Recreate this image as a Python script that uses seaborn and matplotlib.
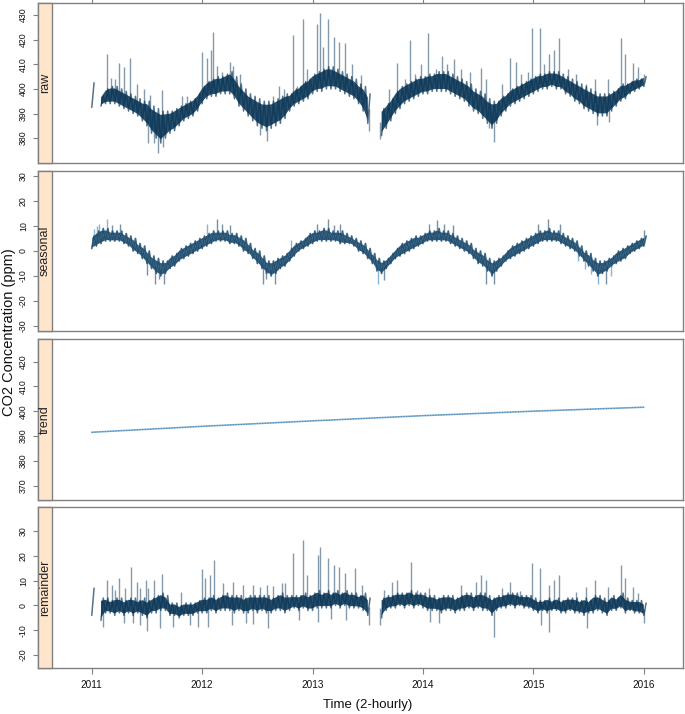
import numpy as np
import pandas as pd
import matplotlib
matplotlib.use("Agg")
import matplotlib.pyplot as plt
import seaborn as sns
from matplotlib.patches import Rectangle

sns.set_theme(style="white")
plt.rcParams['font.family'] = ['Liberation Sans', 'DejaVu Sans']

# ---------------- data ----------------
# knots every 1/24 year from 2011.0 to 2016.0; lo/hi = local min / max of the dense band
START = 2011.0
STEP = 1 / 24

raw_lo = [392.5, None, 393, 394, 394, 394, 393, 392, 391, 390, 389, 387,
          385, 382, 380, 378, 380, 382, 383, 385, 387, 388, 389, 391,
          394, 396, 397, 397, 398, 398, 398, 396, 393, 391, 389, 387,
          385, 384, 383, 384, 385, 386, 388, 391, 393, 394, 395, 396,
          398, 399, 399, 400, 400, 400, 399, 398, 397, 396, 394, 391,
          386, None, None, 381, 384, 387, 390, 392, 394, 395, 396, 397,
          398, 398, 399, 399, 399, 399, 398, 397, 396, 395, 393, 391,
          390, 388, 386, 384, 386, 389, 391, 393, 394, 395, 396, 397,
          398, 399, 400, 400, 401, 400, 400, 398, 397, 395, 394, 392,
          391, 390, 389, 389, 389, 391, 393, 395, 396, 398, 399, 400,
          401]
raw_hi = [402.5, None, 397, 400, 401, 401, 400, 399, 398, 397, 396, 395,
          395, 393, 392, 391, 391, 391, 392, 393, 394, 395, 396, 398,
          401, 403, 404, 405, 405, 406, 407, 405, 402, 400, 398, 397,
          396, 395, 395, 395, 396, 397, 398, 398, 400, 401, 403, 404,
          406, 407, 408, 409, 409, 408, 407, 406, 405, 404, 402, 401,
          398, None, None, 392, 394, 396, 399, 401, 402, 403, 404, 405,
          405, 406, 406, 407, 407, 407, 406, 405, 404, 403, 402, 400,
          399, 398, 396, 395, 395, 397, 398, 400, 401, 402, 403, 404,
          405, 406, 406, 407, 407, 407, 406, 405, 404, 403, 402, 401,
          400, 399, 398, 398, 398, 399, 400, 402, 402, 403, 404, 404,
          405]
raw_spike_t = [2011.136, 2011.172, 2011.211, 2011.247, 2011.293, 2011.347, 2011.407, 2011.474,
               2011.528, 2011.633, 2011.603, 2011.649, 2011.513, 2011.560, 2011.815, 2011.860,
               2011.995, 2012.040, 2012.080, 2012.100, 2012.130, 2012.176, 2012.250, 2012.280,
               2012.340, 2012.520, 2012.584, 2012.644, 2012.700, 2012.740, 2012.819, 2012.855,
               2012.910, 2012.946, 2013.036, 2013.066, 2013.096, 2013.136, 2013.190, 2013.240,
               2013.290, 2013.360, 2013.440, 2013.510, 2013.615, 2013.690, 2013.767, 2013.840,
               2013.880, 2013.930, 2013.980, 2014.045, 2014.115, 2014.170, 2014.220, 2014.280,
               2014.340, 2014.430, 2014.524, 2014.570, 2014.645, 2014.600, 2014.720, 2014.790,
               2014.840, 2014.890, 2014.950, 2014.988, 2015.060, 2015.100, 2015.140, 2015.190,
               2015.230, 2015.310, 2015.390, 2015.480, 2015.555, 2015.576, 2015.685, 2015.676,
               2015.790, 2015.830, 2015.900, 2015.950, 2016.000]
raw_spike_v = [414, 404.5, 404, 410.5, 409, 412.5, 402, 400,
               397.5, 399.5, 374, 376.5, 378, 378, 397, 397,
               415, 412.5, 416, 423, 409.5, 407, 411, 409.5,
               406, 381.4, 379, 397, 401, 400, 422, 401,
               428.5, 408, 426.5, 431, 417, 428.5, 421, 419,
               418.5, 410, 405.7, 382.7, 379.5, 400, 410.4, 404,
               420, 406, 410, 422.6, 408, 413.4, 410, 412.2,
               408, 407, 408.4, 404, 378.6, 384, 402, 412.4,
               411, 406, 407, 424.6, 424.6, 410, 414, 416,
               420.5, 408, 406, 402, 404, 385.4, 386.5, 404,
               420.5, 414, 410.5, 409, 406]

seas_lo = [1, 2, 3, 4, 4, 4, 4, 3, 2, 0, -1, -3,
           -5, -7, -9, -10, -9, -7, -6, -4, -3, -2, -1, 0,
           1, 2, 3, 4, 4, 4, 3, 3, 2, 0, -1, -3,
           -5, -7, -9, -10, -9, -7, -6, -4, -2, 0, 1, 2,
           3, 4, 4, 4, 4, 4, 3, 3, 3, 2, 0, -1,
           -3, -5, -8, -9, -7, -5, -3, -2, -1, 0, 1, 2,
           3, 4, 4, 4, 4, 4, 3, 2, 1, 0, -1, -3,
           -5, -6, -8, -10, -8, -6, -4, -3, -2, -1, 0, 1,
           2, 3, 4, 4, 4, 4, 3, 2, 1, 0, -2, -4,
           -6, -8, -10, -9, -8, -6, -5, -4, -3, -1, 0, 1,
           2]
seas_hi = [6, 8, 9, 9, 8, 8, 8, 7, 6, 5, 3, 2,
           0, -2, -3, -4, -4, -2, -1, 1, 2, 3, 4, 5,
           6, 7, 8, 8, 8, 8, 7, 7, 6, 5, 3, 1,
           0, -2, -4, -4, -3, -2, -1, 1, 3, 4, 5, 7,
           8, 8, 9, 9, 8, 8, 8, 7, 6, 5, 4, 3,
           1, -1, -3, -4, -3, -1, 1, 3, 4, 5, 6, 6,
           7, 8, 8, 9, 8, 8, 7, 6, 5, 4, 3, 1,
           0, -1, -3, -4, -3, -2, 0, 2, 3, 4, 5, 6,
           7, 8, 8, 9, 8, 8, 7, 6, 5, 4, 2, 0,
           -1, -3, -4, -4, -3, -2, 0, 1, 2, 3, 4, 5,
           6]
seas_spike_t = [2011.180, 2011.256, 2011.500, 2011.573, 2011.650, 2011.610, 2012.130, 2012.176,
                2012.250, 2012.550, 2012.660, 2012.580, 2013.040, 2013.140, 2013.190, 2013.250,
                2013.645, 2014.055, 2014.130, 2014.190, 2014.270, 2014.570, 2014.645, 2015.040,
                2015.130, 2015.240, 2015.660, 2016.000]
seas_spike_v = [10.4, 11, -9.6, -13, -13, -11, 13, 11,
                10.4, -13, -13, -11, 11, 12.7, 10.4, 11,
                -11.6, 11, 12.4, 11, 10.4, -13, -13, 11,
                12.7, 11, -13, 8.5]
seas_light_t = [2011.020, 2011.050, 2011.070, 2011.136, 2012.040, 2012.800, 2013.590,
                2015.400, 2015.470, 2015.520, 2015.585, 2015.700]
seas_light_v = [9, 10, 11, 12.7, 11, 4.4, -13,
                -4, -7, -9, -13, -10]

trend_t = [2011, 2012, 2013, 2014, 2015, 2016]
trend_v = [391.5, 393.9, 396.1, 398.2, 400.0, 401.6]

rem_lo = [-4, None, -6, -3, -3, -4, -3, -4, -3, -4, -3, -4,
          -5, -3, -3, -2, -2, -4, -4, -5, -4, -4, -4, -3,
          -3, -3, -2, -3, -2, -2, -2, -3, -2, -3, -3, -2,
          -3, -2, -3, -3, -2, -2, -3, -2, -1, -2, -1, -2,
          -2, -1, -1, -1, -1, 0, -1, 0, -1, -1, -1, -2,
          -4, None, None, -5, -2, -1, -1, 0, -1, 0, -1, 0,
          -1, -2, -2, -2, -3, -2, -2, -3, -2, -2, -1, -2,
          -1, -2, -2, -4, -2, -1, -1, 0, -1, 0, -1, -1,
          -2, -3, -2, -3, -2, -2, -3, -3, -2, -3, -3, -4,
          -3, -3, -2, -3, -4, -2, -2, -1, -3, -2, -3, -3,
          -4]
rem_hi = [7, None, 3, 3, 2, 3, 3, 2, 3, 3, 2, 3,
          2, 3, 4, 5, 4, 1, 1, 0, 1, 1, 1, 2,
          3, 3, 4, 3, 4, 5, 4, 4, 4, 3, 4, 4,
          4, 4, 4, 3, 4, 5, 4, 4, 4, 4, 5, 4,
          5, 6, 5, 6, 5, 6, 5, 6, 5, 5, 4, 5,
          3, None, None, 3, 4, 4, 5, 5, 5, 6, 5, 5,
          5, 4, 4, 3, 4, 4, 4, 3, 4, 5, 5, 4,
          5, 5, 4, 3, 4, 4, 5, 5, 5, 4, 4, 4,
          3, 2, 2, 3, 2, 3, 2, 3, 3, 3, 2, 3,
          2, 4, 4, 3, 2, 4, 3, 5, 3, 2, 2, 2,
          1]
rem_spike_t = [2011.100, 2011.136, 2011.180, 2011.210, 2011.250, 2011.300, 2011.353, 2011.410,
               2011.440, 2011.490, 2011.510, 2011.564, 2011.640, 2011.290, 2011.500, 2011.615,
               2011.370, 2011.440, 2011.810, 2011.740, 2011.890, 2011.960, 2011.995, 2012.030,
               2012.070, 2012.107, 2012.050, 2012.190, 2012.280, 2012.370, 2012.460, 2012.520,
               2012.584, 2012.640, 2012.720, 2012.750, 2012.270, 2012.400, 2012.600, 2012.460,
               2012.820, 2012.910, 2012.950, 2013.050, 2013.070, 2013.140, 2013.190, 2013.240,
               2013.290, 2013.380, 2013.450, 2013.050, 2012.880, 2013.170, 2013.300, 2013.515,
               2013.615, 2013.650, 2013.720, 2013.767, 2013.890, 2013.950, 2014.055, 2014.060,
               2014.145, 2014.340, 2014.480, 2014.524, 2014.570, 2014.645, 2014.720, 2014.790,
               2014.880, 2014.988, 2015.060, 2015.140, 2015.190, 2015.230, 2015.070, 2015.145,
               2015.390, 2015.480, 2015.560, 2015.676, 2015.490, 2015.790, 2015.830, 2015.900,
               2015.950, 2016.000]
rem_spike_v = [-8.6, 10.2, 8.2, 6.2, 10.9, 6.9, 15.6, 9.6,
               7, 10.2, 7, 10.2, 12.7, -7.2, -10.3, -9.2,
               -7.2, -7.8, 5.5, -8.6, -8, -8.6, 14.7, 10.9,
               12.3, 18.3, -8.8, 8.9, 9.6, 8.2, 8.2, 7.6,
               8.2, 7.8, 9, 8.9, -7.9, -7.2, -9.2, -7.5,
               21, 26.4, 12.3, 20.3, 23.7, 19.2, 16.3, 15.6,
               13, 15, 8.2, -6.6, -6, -5.5, -6, -7.9,
               -7.9, 6.2, 9.6, 10.2, 17.6, 6.2, 6.9, -6.6,
               -7.2, 8.2, 9.6, 12.3, 10.2, -12.6, 6.9, 9.6,
               5.9, 17, 15, 8.2, 10.2, 12.3, -7.9, -10.6,
               5.5, 7.6, 10.2, 7.6, -9.2, 16.3, 10.9, 7.6,
               5, -7.2]

panel_names = ["raw", "seasonal", "trend", "remainder"]
year_ticks = [2011, 2012, 2013, 2014, 2015, 2016]

# ---------------- helpers ----------------
NAVY = "#0b3657"
LIGHT = "#7fb2d6"
GRAY = "#808080"
STRIP = "#FFE5CC"


def band_frame(lo, hi):
    lo = np.array(lo, dtype=float)
    hi = np.array(hi, dtype=float)
    t = START + STEP * np.arange(len(lo))
    tt = np.column_stack([t, t + STEP / 2]).ravel()
    vv = np.column_stack([lo, hi]).ravel()
    seg = np.cumsum(np.isnan(vv))
    return pd.DataFrame({"t": tt, "v": vv, "seg": seg}).dropna()


def spike_bases(ts, vs, lo, hi):
    mid = (np.array(lo, dtype=float) + np.array(hi, dtype=float)) / 2
    idx = np.clip(np.round((np.array(ts) - START) / STEP).astype(int), 0, len(mid) - 1)
    b = mid[idx]
    return np.where(np.isnan(b), np.array(vs, dtype=float), b)


def draw_band(ax, lo, hi, color=NAVY, lw=1.1, alpha=0.7, fill_alpha=0.88, inset=0.12):
    lo_a = np.array(lo, dtype=float)
    hi_a = np.array(hi, dtype=float)
    t = START + STEP * np.arange(len(lo_a))
    if fill_alpha > 0:
        core_lo = lo_a + (hi_a - lo_a) * inset
        core_hi = hi_a - (hi_a - lo_a) * inset
        ax.fill_between(t, core_lo, core_hi, color=color, alpha=fill_alpha, lw=0, zorder=2)
    df = band_frame(lo, hi)
    sns.lineplot(data=df, x="t", y="v", units="seg", estimator=None, sort=False,
                 color=color, lw=lw, alpha=alpha, ax=ax, legend=False, zorder=2.5)


def draw_spikes(ax, ts, vs, lo, hi, color=NAVY, alpha=0.5, lw=1.0):
    b = spike_bases(ts, vs, lo, hi)
    ax.vlines(ts, b, vs, colors=color, alpha=alpha, lw=lw, zorder=1.8)


# ---------------- figure ----------------
W, H = 685, 714
fig = plt.figure(figsize=(W / 100, H / 100), dpi=100)

px_left, px_right = 38, 683
panels_px = [(3, 163), (171, 331), (339, 500), (507, 668)]
ylims = [(369.9, 434.9), (-32, 32), (364.2, 429.1), (-25.2, 39.7)]
yticks = [list(range(380, 431, 10)), list(range(-30, 31, 10)),
          list(range(370, 421, 10)), list(range(-20, 31, 10))]
xlim = (2010.513, 2016.355)
strip_w = 14 / (px_right - px_left)

axes = []
for i, (top, bot) in enumerate(panels_px):
    ax = fig.add_axes([px_left / W, 1 - bot / H, (px_right - px_left) / W, (bot - top) / H])
    axes.append(ax)

# raw
ax = axes[0]
draw_spikes(ax, raw_spike_t, raw_spike_v, raw_lo, raw_hi)
draw_band(ax, raw_lo, raw_hi)

# seasonal
ax = axes[1]
draw_spikes(ax, seas_light_t, seas_light_v, seas_lo, seas_hi, color=LIGHT, alpha=0.95, lw=1.0)
draw_band(ax, seas_lo, seas_hi, color=LIGHT, lw=1.4, alpha=0.6, fill_alpha=0.0)
draw_spikes(ax, seas_spike_t, seas_spike_v, seas_lo, seas_hi, alpha=0.55)
draw_band(ax, seas_lo, seas_hi)

# trend
ax = axes[2]
tdf = pd.DataFrame({"t": trend_t, "v": trend_v})
sns.lineplot(data=tdf, x="t", y="v", color=LIGHT, lw=1.2, ax=ax, legend=False)
ax.plot(tdf["t"], tdf["v"], color=NAVY, lw=0.6, alpha=0.55, dashes=(1.0, 2.2))

# remainder
ax = axes[3]
draw_spikes(ax, rem_spike_t, rem_spike_v, rem_lo, rem_hi)
draw_band(ax, rem_lo, rem_hi)

for i, ax in enumerate(axes):
    ax.set_xlim(*xlim)
    ax.set_ylim(*ylims[i])
    ax.set_xlabel("")
    ax.set_ylabel("")
    ax.set_facecolor("white")
    for s in ax.spines.values():
        s.set_color(GRAY)
        s.set_linewidth(1.0)
    ax.set_yticks(yticks[i])
    ax.set_yticklabels([str(v) for v in yticks[i]])
    ax.tick_params(axis="y", left=True, direction="out", length=3.8, width=0.8,
                   color=GRAY, labelsize=6.3, pad=3.5, labelcolor="#111111")
    for lab in ax.get_yticklabels():
        lab.set_rotation(90)
        lab.set_va("center")
        lab.set_ha("right")
    ax.set_xticks(year_ticks)
    if i == 0:
        ax.tick_params(axis="x", top=True, bottom=False, labeltop=False, labelbottom=False,
                       direction="out", length=3.8, width=0.8, color=GRAY)
    elif i == 3:
        ax.set_xticklabels([str(y) for y in year_ticks])
        ax.tick_params(axis="x", top=False, bottom=True, labelbottom=True,
                       direction="out", length=4.0, width=0.8, color=GRAY,
                       labelsize=7.2, pad=4.5, labelcolor="#111111")
    else:
        ax.tick_params(axis="x", top=False, bottom=False, labelbottom=False)
    # strip
    ax.add_patch(Rectangle((0, 0), strip_w, 1, transform=ax.transAxes, facecolor=STRIP,
                           edgecolor=GRAY, lw=1.0, zorder=3, clip_on=False))
    ax.text(strip_w / 2, 0.5, panel_names[i], transform=ax.transAxes, rotation=90,
            ha="center", va="center", fontsize=9, color="#222222", zorder=4)

fig.text(368 / W, 1 - 705 / H, "Time (2-hourly)", ha="center", va="center",
         fontsize=9.5, color="#111111")
fig.text(9 / W, 1 - 332 / H, "CO2 Concentration (ppm)", ha="center", va="center",
         rotation=90, fontsize=10.5, color="#111111")

fig.savefig("out.png", dpi=100)
